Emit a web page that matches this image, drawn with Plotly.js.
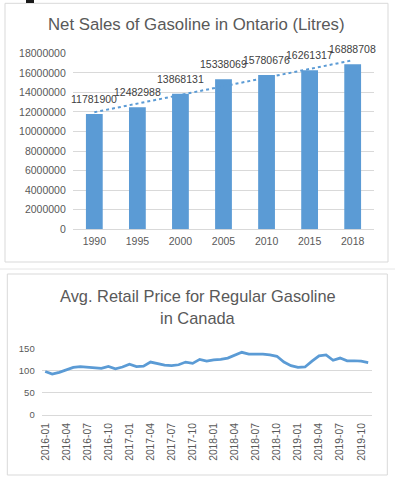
<!DOCTYPE html>
<html><head><meta charset="utf-8">
<script src="https://cdn.plot.ly/plotly-3.0.1.min.js"></script>
<style>html,body{margin:0;padding:0;background:#fff}#chart{width:395px;height:480px}</style>
</head><body><div id="chart"></div><script>
// ---- data: top chart ----
const salesYears = ['1990','1995','2000','2005','2010','2015','2018'];
const salesLitres = [11781900,12482988,13868131,15338069,15780676,16261317,16888708];
const salesTicks = [0,2000000,4000000,6000000,8000000,10000000,12000000,14000000,16000000,18000000];

// ---- data: bottom chart ----
const priceMonths = [
 '2016-01','2016-02','2016-03','2016-04','2016-05','2016-06','2016-07','2016-08','2016-09','2016-10','2016-11','2016-12',
 '2017-01','2017-02','2017-03','2017-04','2017-05','2017-06','2017-07','2017-08','2017-09','2017-10','2017-11','2017-12',
 '2018-01','2018-02','2018-03','2018-04','2018-05','2018-06','2018-07','2018-08','2018-09','2018-10','2018-11','2018-12',
 '2019-01','2019-02','2019-03','2019-04','2019-05','2019-06','2019-07','2019-08','2019-09','2019-10','2019-11'];
const priceCents = [
 98,92,96,102,107,109,108,106,105,109,104,108,
 114,109,110,119,116,112,111,113,119,116,125,121,
 124,125,128,134,141,137,137,137,135,132,119,111,
 107,108,121,133,135,123,128,122,122,121,118];
const priceTickLabels = ['2016-01','2016-04','2016-07','2016-10','2017-01','2017-04','2017-07','2017-10',
 '2018-01','2018-04','2018-07','2018-10','2019-01','2019-04','2019-07','2019-10'];
const priceTicks = [0,50,100,150];

// linear trendline (least squares over category index), as Excel draws it
const n = salesLitres.length;
const mx = (n-1)/2;
const my = salesLitres.reduce((a,b)=>a+b,0)/n;
let sxy=0, sxx=0;
salesLitres.forEach((v,i)=>{sxy+=(i-mx)*(v-my); sxx+=(i-mx)*(i-mx);});
const slope = sxy/sxx;
const trendY = [my - slope*mx, my + slope*(n-1-mx)];
const trendX = [salesYears[0], salesYears[n-1]];

const W=395, H=480;
const px = x => x/W;
const py = y => 1 - y/H;

const FONT = 'Liberation Sans, Arial, sans-serif';
const BLUE = '#5B9BD5';
const GRID = '#d9d9d9';
const TXT = '#595959';

const traces = [
 {type:'bar', x:salesYears, y:salesLitres, xaxis:'x', yaxis:'y', marker:{color:BLUE}, hoverinfo:'skip'},
 {type:'scatter', mode:'lines', x:trendX, y:trendY, xaxis:'x', yaxis:'y',
  line:{color:BLUE, width:2, dash:'dot'}, hoverinfo:'skip'},
 {type:'scatter', mode:'lines', x:priceMonths, y:priceCents, xaxis:'x2', yaxis:'y2',
  line:{color:BLUE, width:2.75}, hoverinfo:'skip'}
];

// data labels: annotation x on a category axis is the category's serial index
const annotations = salesLitres.map((v,i)=>({
  x:i, y:v, xref:'x', yref:'y', text:String(v), showarrow:false,
  yshift:15, yanchor:'middle', font:{family:FONT, size:10.5, color:'#404040'}
}));
annotations.push(
 {xref:'paper', yref:'paper', x:px(196.5), y:py(24), text:'Net Sales of Gasoline in Ontario (Litres)',
  showarrow:false, xanchor:'center', yanchor:'middle', font:{family:FONT, size:16.8, color:TXT}},
 {xref:'paper', yref:'paper', x:px(197.7), y:py(296), text:'Avg. Retail Price for Regular Gasoline',
  showarrow:false, xanchor:'center', yanchor:'middle', font:{family:FONT, size:16.4, color:TXT}},
 {xref:'paper', yref:'paper', x:px(197.7), y:py(318.3), text:'in Canada',
  showarrow:false, xanchor:'center', yanchor:'middle', font:{family:FONT, size:16.4, color:TXT}}
);

const shapes = [
 {type:'rect', xref:'paper', yref:'paper', x0:px(5), x1:px(388), y0:py(262), y1:py(3.3), line:{color:GRID, width:1}},
 {type:'line', xref:'paper', yref:'paper', x0:0, x1:1, y0:py(269), y1:py(269), line:{color:'#e6e6e6', width:1}},
 {type:'rect', xref:'paper', yref:'paper', x0:px(7.3), x1:px(387.3), y0:py(475), y1:py(274), line:{color:GRID, width:1}},
 {type:'rect', xref:'paper', yref:'paper', x0:px(26), x1:px(34), y0:py(3), y1:py(0), line:{width:0}, fillcolor:'#1a1a1a'}
];

const tickFont = {family:FONT, size:10.5, color:TXT};
const layout = {
 width:W, height:H, margin:{l:0,r:0,t:0,b:0}, paper_bgcolor:'#fff', plot_bgcolor:'#fff',
 showlegend:false, bargap:0.61, font:{family:FONT},
 xaxis:{domain:[px(72.8), px(374.2)], anchor:'y', type:'category', range:[-0.5, n-0.5],
  showgrid:false, zeroline:false, showline:false, ticks:'', tickfont:tickFont, ticklabelstandoff:4, fixedrange:true},
 yaxis:{domain:[py(229.3), py(53.3)], anchor:'x', range:[0,18000000], tickvals:salesTicks,
  ticktext:salesTicks.map(String), showgrid:true, gridcolor:GRID, gridwidth:1, zeroline:true,
  zerolinecolor:GRID, zerolinewidth:1, showline:false, ticks:'', tickfont:tickFont, ticklabelstandoff:6, fixedrange:true},
 xaxis2:{domain:[px(41.7), px(371.7)], anchor:'y2', type:'category', tickvals:priceTickLabels,
  ticktext:priceTickLabels, tickangle:-90, showgrid:false, zeroline:false, showline:false, ticks:'',
  tickfont:{family:FONT, size:10.3, color:TXT}, ticklabelstandoff:5, range:[-0.5, priceMonths.length-0.5], fixedrange:true},
 yaxis2:{domain:[py(415), py(348.3)], anchor:'x2', range:[0,150], tickvals:priceTicks,
  ticktext:priceTicks.map(String), showgrid:true, gridcolor:GRID, gridwidth:1, zeroline:true,
  zerolinecolor:GRID, zerolinewidth:1, showline:false, ticks:'', tickfont:{family:FONT, size:9.5, color:TXT},
  ticklabelstandoff:6, fixedrange:true},
 annotations:annotations, shapes:shapes
};

Plotly.newPlot('chart', traces, layout, {staticPlot:true, displayModeBar:false});
</script></body></html>
